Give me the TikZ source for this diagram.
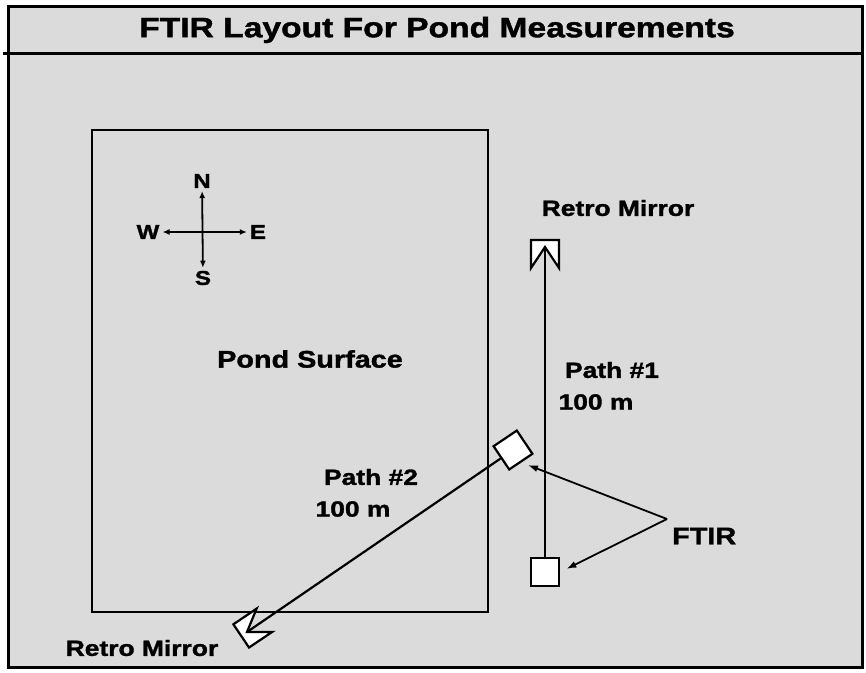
\documentclass[tikz,border=0pt]{standalone}
\usepackage{fontspec}
\setmainfont{Liberation Sans}[FakeStretch=1.2,FakeBold=1.5]
\usetikzlibrary{arrows.meta,calc,positioning}
\tikzset{
 lbl/.style={font=\bfseries\fontsize{22}{26}\selectfont,inner sep=0pt},
 biglbl/.style={font=\bfseries\fontsize{24}{28}\selectfont,inner sep=0pt},
 dirlbl/.style={font=\bfseries\fontsize{20}{24}\selectfont,inner sep=3pt},
 inst/.style={draw,fill=white,line width=2.2pt,minimum size=28pt,inner sep=0pt},
 beam/.style={line width=2.2pt},
 pointer/.style={line width=1.8pt,-{Latex[length=10pt,width=7pt]},shorten >=7pt},
 retro/.pic={\draw[fill=white,line width=2.2pt,line join=miter]
   (-21,-14) -- (7,-14) -- (7,14) -- (-21,14) -- (0,0) -- cycle;}
}
\begin{document}
\begin{tikzpicture}[x=1pt,y=-1pt,>={Latex[length=7pt,width=6pt]}]
 \useasboundingbox (0,0) rectangle (866,672);
 \filldraw[fill=black!14,line width=3pt] (8,6) rectangle (862,667);
 \draw[line width=3pt] (3,53) -- (864,53);
 \node[font=\bfseries\fontsize{28}{32}\selectfont,inner sep=0pt] (title) at (437,30) {FTIR Layout For Pond Measurements};
 \draw[line width=2.2pt] (92,130) rectangle (488,612);
 \node[biglbl] (pond) at (310,359) {Pond Surface};
 \foreach \d/\x/\y in {N/202/181,S/203/278,W/148/232,E/258/232}{
  \node[dirlbl] (\d) at (\x,\y) {\d};
 }
 \draw[<->,line width=1.8pt] (W) -- (E);
 \draw[<->,line width=1.8pt] (N) -- (S);
 \node[inst] (ftirA) at (545,572) {};
 \node[inst,rotate=34] (ftirB) at (513,450) {};
 \coordinate (mirA) at (545,247);
 \coordinate (mirB) at (247,632);
 \draw[beam] (ftirA) -- (mirA);
 \draw[beam] (ftirB) -- (mirB);
 \pic[rotate=90] at (mirA) {retro};
 \pic[rotate=214] at (mirB) {retro};
 \node[lbl] (mirAlbl) at (618,208) {Retro Mirror};
 \node[lbl] (mirBlbl) at (142,648) {Retro Mirror};
 \node[lbl] (path1) at (612,370) {Path \#1};
 \node[lbl] (len1) at (596,402) {100 m};
 \node[lbl] (path2) at (371,477) {Path \#2};
 \node[lbl] (len2) at (353,509) {100 m};
 \node[biglbl,anchor=west] (ftirlbl) at (672,536) {FTIR};
 \coordinate (fork) at (667,519);
 \draw[pointer] (fork) -- (ftirB.south);
 \draw[pointer] (fork) -- (ftirA.east);
\end{tikzpicture}
\end{document}
